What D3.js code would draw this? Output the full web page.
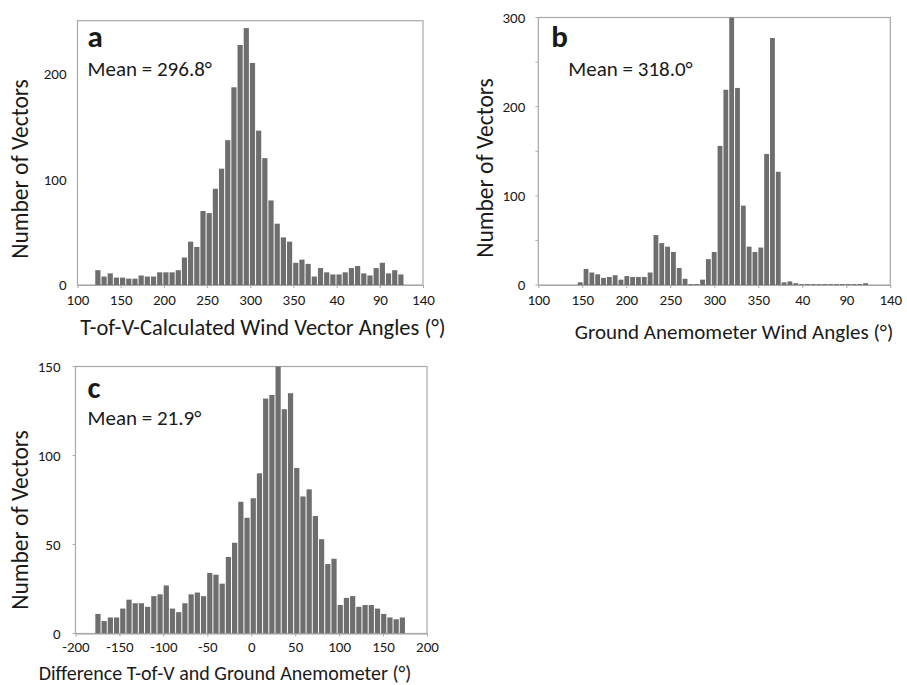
<!DOCTYPE html>
<html>
<head>
<meta charset="utf-8">
<script src="https://cdn.jsdelivr.net/npm/d3@7"></script>
<style>
  body { margin: 0; background: #fff; }
  text { font-family: Carlito, Calibri, Lato, sans-serif; fill: #1a1a1a; }
</style>
</head>
<body>
<div id="root"></div>
<script>
// counts per bin
const countsA = [14, 8, 11, 7, 7, 6, 6, 9, 8, 8, 12, 12, 12, 14, 26, 41, 36, 70, 68, 91,
  110, 137, 187, 227, 243, 210, 146, 120, 80, 58, 45, 41, 21, 24, 20, 8, 16, 12, 10, 10,
  12, 16, 18, 11, 9, 16, 21, 11, 14, 10];
const countsB = [3, 18, 14, 12, 8, 9, 11, 6, 10, 9, 9, 9, 14, 56, 47, 43, 37, 19, 7, 1,
  1, 6, 29, 37, 156, 219, 300, 221, 89, 43, 37, 42, 147, 277, 127, 3, 4, 2, 1, 1,
  1, 1, 1, 1, 1, 1, 1, 1, 1, 2];
const countsC = [11, 7, 9, 9, 14, 19, 17, 17, 15, 21, 22, 27, 14, 12, 17, 22, 23, 21, 34, 33,
  28, 43, 51, 74, 65, 76, 90, 132, 134, 150, 126, 135, 93, 77, 81, 66, 53, 39, 42, 16,
  20, 21, 15, 16, 16, 14, 11, 9, 8, 9];

// angle axes run 100..500 and wrap past 360
const angleTicks = [100, 150, 200, 250, 300, 350, 400, 450, 500];
const diffTicks = [-200, -150, -100, -50, 0, 50, 100, 150, 200];
const yTicksA = [0, 100, 200];
const yTicksB = [0, 100, 200, 300];
const yTicksC = [0, 50, 100, 150];

const panels = [
  {
    letter: 'a', mean: 'Mean = 296.8°', counts: countsA,
    binStart: 120, binWidth: 7.16,
    xDomain: [100, 500], yDomain: [0, 250], xTicks: angleTicks, yTicks: yTicksA,
    wrap: true, yMinor: [], yPad: 11, xPad: 6,
    left: 77.5, right: 423, top: 20.7, bottom: 285,
    xTitle: 'T-of-V-Calculated Wind Vector Angles (°)', xTitleX: 263, xTitleY: 335, xTitleSize: 22.5,
    yTitleX: 28, yTitleY: 169, letterDx: 10, meanDx: 10, letterY: 47, meanY: 76
  },
  {
    letter: 'b', mean: 'Mean = 318.0°', counts: countsB,
    binStart: 144.3, binWidth: 6.62,
    xDomain: [100, 500], yDomain: [0, 300], xTicks: angleTicks, yTicks: yTicksB,
    wrap: true, yMinor: [0, 50, 100, 150, 200, 250, 300], yPad: 13, xPad: 6,
    left: 538.3, right: 890.3, top: 17.5, bottom: 285,
    xTitle: 'Ground Anemometer Wind Angles (°)', xTitleX: 734, xTitleY: 339, xTitleSize: 21,
    yTitleX: 493, yTitleY: 168, letterDx: 13, meanDx: 30, letterY: 47, meanY: 76
  },
  {
    letter: 'c', mean: 'Mean = 21.9°', counts: countsC,
    binStart: -178, binWidth: 7.07,
    xDomain: [-200, 200], yDomain: [0, 150], xTicks: diffTicks, yTicks: yTicksC,
    wrap: false, yMinor: [0, 50, 100, 150], yPad: 15, xPad: 5,
    left: 75.5, right: 427, top: 366.5, bottom: 633.5,
    xTitle: 'Difference T-of-V and Ground Anemometer (°)', xTitleX: 225, xTitleY: 679.5, xTitleSize: 20,
    yTitleX: 28, yTitleY: 520, letterDx: 12, meanDx: 12, letterY: 398, meanY: 425
  }
];

const svg = d3.select('#root').append('svg')
  .attr('width', 907)
  .attr('height', 685);

panels.forEach(p => drawPanel(svg, p));

function drawPanel(svg, p) {
  const x = d3.scaleLinear().domain(p.xDomain).range([p.left, p.right]);
  const y = d3.scaleLinear().domain(p.yDomain).range([p.bottom, p.top]);
  const g = svg.append('g');

  g.append('rect')
    .attr('x', p.left)
    .attr('y', p.top)
    .attr('width', p.right - p.left)
    .attr('height', p.bottom - p.top)
    .attr('fill', 'none')
    .attr('stroke', '#a8a8a8')
    .attr('stroke-width', 1.2);

  g.selectAll('.bar')
    .data(p.counts)
    .enter()
    .append('rect')
      .attr('class', 'bar')
      .attr('x', (d, i) => x(p.binStart + i * p.binWidth) + 0.5)
      .attr('width', (d, i) => x(p.binStart + (i + 1) * p.binWidth) - x(p.binStart + i * p.binWidth) - 1)
      .attr('y', d => y(d))
      .attr('height', d => y(0) - y(d))
      .attr('fill', '#6e6e6e');

  // x axis
  const xa = g.append('g')
    .attr('transform', `translate(0,${p.bottom})`)
    .call(d3.axisBottom(x)
      .tickValues(p.xTicks)
      .tickFormat(v => p.wrap && v > 360 ? v - 360 : v)
      .tickSize(3)
      .tickSizeOuter(0)
      .tickPadding(p.xPad));
  xa.attr('font-size', 15);
  xa.select('.domain').attr('stroke', '#a8a8a8').attr('stroke-width', 1.2);
  xa.selectAll('.tick line').attr('stroke', '#a8a8a8');

  // y axis, labels only
  const ya = g.append('g')
    .attr('transform', `translate(${p.left},0)`)
    .call(d3.axisLeft(y)
      .tickValues(p.yTicks)
      .tickSize(0)
      .tickPadding(p.yPad));
  ya.attr('font-size', 15);
  ya.select('.domain').remove();

  g.selectAll('.minor')
    .data(p.yMinor)
    .enter()
    .append('line')
      .attr('x1', p.left - 3)
      .attr('x2', p.left)
      .attr('y1', d => y(d))
      .attr('y2', d => y(d))
      .attr('stroke', '#b0b0b0');

  g.append('text')
    .attr('x', p.left + p.letterDx)
    .attr('y', p.letterY)
    .attr('font-size', 31)
    .attr('font-weight', 'bold')
    .text(p.letter);

  g.append('text')
    .attr('x', p.left + p.meanDx)
    .attr('y', p.meanY)
    .attr('font-size', 21)
    .text(p.mean);

  g.append('text')
    .attr('x', p.xTitleX)
    .attr('y', p.xTitleY)
    .attr('text-anchor', 'middle')
    .attr('font-size', p.xTitleSize)
    .text(p.xTitle);

  g.append('text')
    .attr('transform', `translate(${p.yTitleX},${p.yTitleY}) rotate(-90)`)
    .attr('text-anchor', 'middle')
    .attr('font-size', 23.5)
    .text('Number of Vectors');
}
</script>
</body>
</html>
